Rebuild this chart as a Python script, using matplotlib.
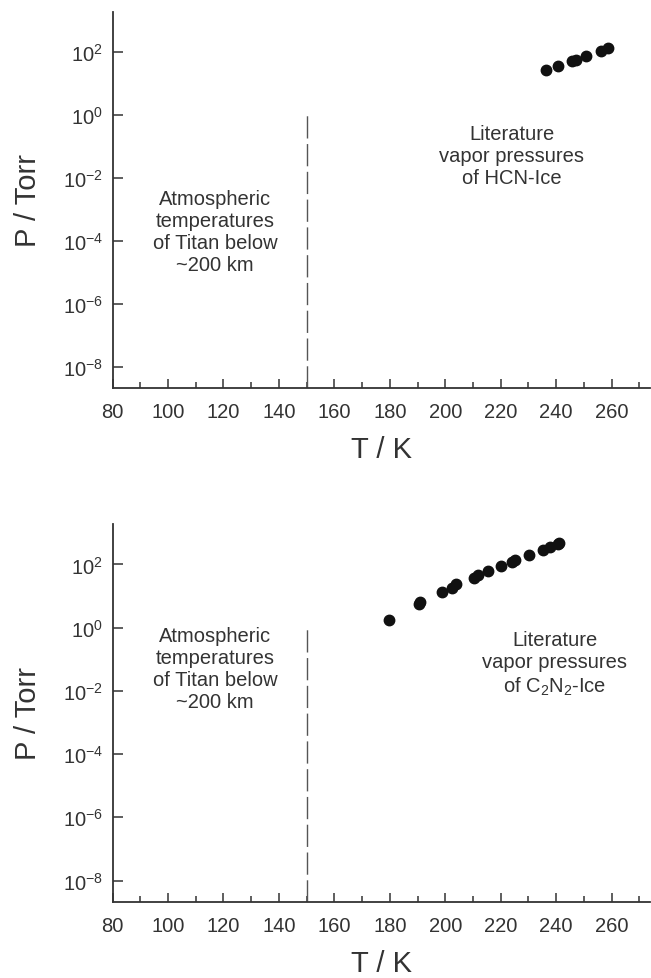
import matplotlib
matplotlib.use("Agg")
import matplotlib.pyplot as plt
import matplotlib.ticker as mticker
import numpy as np

# HCN ice, literature vapor pressures
hcn_T = [236.4, 240.7, 245.8, 247.2, 250.8, 256.2, 258.8]
hcn_logP = [1.43, 1.56, 1.71, 1.75, 1.87, 2.03, 2.13]

# C2N2 ice, literature vapor pressures
c2n2_T = [179.7, 190.6, 190.9, 199.0, 202.3, 203.8, 210.2, 211.9, 215.3,
          220.1, 224.0, 225.2, 230.3, 235.2, 237.9, 240.6, 241.2]
c2n2_logP = [0.25, 0.76, 0.82, 1.13, 1.26, 1.37, 1.58, 1.68, 1.79,
             1.95, 2.09, 2.14, 2.30, 2.45, 2.54, 2.63, 2.67]

titan_T = 150.0      # upper bound of Titan temperatures below ~200 km
titan_P_top = 1.0    # where the dashed line stops

x_ticks = [80, 100, 120, 140, 160, 180, 200, 220, 240, 260]
y_ticks = [1e-8, 1e-6, 1e-4, 1e-2, 1e0, 1e2]

plt.rcParams["font.family"] = ["Liberation Sans", "DejaVu Sans"]
plt.rcParams["mathtext.fontset"] = "custom"
plt.rcParams["mathtext.rm"] = "Liberation Sans"
plt.rcParams["mathtext.it"] = "Liberation Sans:italic"
plt.rcParams["mathtext.default"] = "regular"
plt.rcParams["axes.unicode_minus"] = False

INK = "#333333"


def setup_axes(ax):
    ax.set_yscale("log")
    ax.set_xlim(80, 274)
    ax.set_ylim(10 ** -8.68, 10 ** 3.28)
    for s in ["top", "right"]:
        ax.spines[s].set_visible(False)
    for s in ["left", "bottom"]:
        ax.spines[s].set_linewidth(1.3)
        ax.spines[s].set_color(INK)
    ax.set_xticks(x_ticks)
    ax.xaxis.set_minor_locator(mticker.MultipleLocator(10))
    ax.set_yticks(y_ticks)
    ax.yaxis.set_minor_locator(mticker.NullLocator())
    ax.tick_params(axis="x", which="major", direction="in", length=6.5, width=1.1,
                   color=INK, labelcolor=INK, labelsize=14.5, pad=10)
    ax.tick_params(axis="x", which="minor", direction="in", length=4, width=1.1, color=INK)
    ax.tick_params(axis="y", which="major", direction="in", length=7, width=1.1,
                   color=INK, labelcolor=INK, labelsize=14.5, pad=7)
    ax.set_xlabel("T / K", fontsize=21, color=INK)
    ax.set_ylabel("P / Torr", fontsize=21, color=INK)
    ax.xaxis.set_label_coords(0.5, -0.125)
    ax.yaxis.set_label_coords(-0.132, 0.5)
    ax.vlines(titan_T, ax.get_ylim()[0], titan_P_top, colors="#555555",
              linewidth=1.0, linestyles=(0, (16, 4)))


fig = plt.figure(figsize=(6.51, 9.79), dpi=100)
ax1 = fig.add_axes([0.173, 0.6027, 0.826, 0.3843])
ax2 = fig.add_axes([0.173, 0.0776, 0.826, 0.3862])

for ax in (ax1, ax2):
    setup_axes(ax)

ax1.plot(hcn_T, np.power(10.0, hcn_logP), "o", color="#111111", markersize=7.5)
ax2.plot(c2n2_T, np.power(10.0, c2n2_logP), "o", color="#111111", markersize=7.5)

txt = dict(ha="center", va="center", fontsize=14.5, color=INK, linespacing=1.2)
ax1.text(117, 10 ** -3.71, "Atmospheric\ntemperatures\nof Titan below\n~200 km", **txt)
ax1.text(224, 10 ** -1.28, "Literature\nvapor pressures\nof HCN-Ice", **txt)
ax2.text(117, 10 ** -1.30, "Atmospheric\ntemperatures\nof Titan below\n~200 km", **txt)
ax2.text(239.6, 10 ** -1.14, "Literature\nvapor pressures\nof C$_2$N$_2$-Ice", **txt)

fig.savefig("out.png", dpi=100)
